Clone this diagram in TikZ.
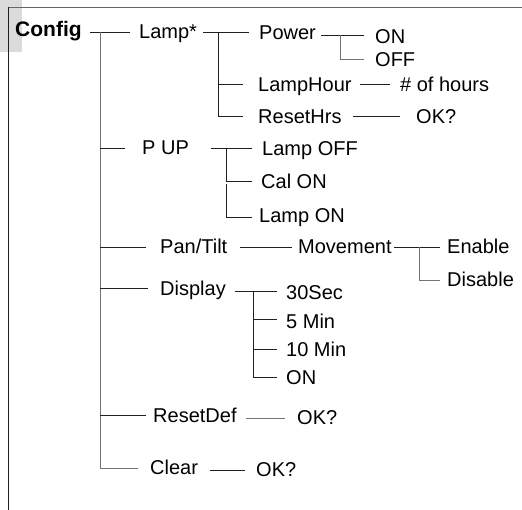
\documentclass[tikz,border=0pt]{standalone}
\usepackage{fontspec}
\setmainfont{Liberation Sans}
\begin{document}
\begin{tikzpicture}[x=1pt,y=-1pt,
  tx/.style={anchor=west,inner sep=0pt,text height=14.3pt,text depth=0pt,font=\fontsize{20}{23}\selectfont},
  bt/.style={anchor=west,inner sep=0pt,text height=15pt,text depth=0pt,font=\fontsize{21}{24}\selectfont\bfseries},
  ln/.style={draw=black!88,line width=0.9pt},
  vl/.style={draw=black!55,line width=0.9pt}]
\useasboundingbox (0,0) rectangle (522,510);
\fill[black!14] (0,0) rectangle (22,52);
\coordinate (F0) at (8,7);
\coordinate (F1) at (522,7);
\coordinate (F2) at (8,510);
\draw[draw=black!60,line width=0.9pt] (F0) -- (F1);
\draw[ln] (F0) -- (F2);

% nodes
\node[bt] (config) at (15,29) {Config};
\node[tx] (lamp) at (139,31) {Lamp*};
\node[tx] (power) at (259,32) {Power};
\node[tx] (on) at (375,36) {ON};
\node[tx] (off) at (375,59) {OFF};
\node[tx] (lamphour) at (258,84) {LampHour};
\node[tx] (hours) at (400,84) {\# of hours};
\node[tx] (resethrs) at (258,116) {ResetHrs};
\node[tx] (ok1) at (416,116) {OK?};
\node[tx] (pup) at (142,147) {P UP};
\node[tx] (lampoff) at (262,148) {Lamp OFF};
\node[tx] (calon) at (261,181) {Cal ON};
\node[tx] (lampon) at (259,215) {Lamp ON};
\node[tx] (pantilt) at (160,246) {Pan/Tilt};
\node[tx] (movement) at (298,246) {Movement};
\node[tx] (enable) at (447,246) {Enable};
\node[tx] (disable) at (447,279) {Disable};
\node[tx] (display) at (160,288) {Display};
\node[tx] (s30) at (286,292) {30Sec};
\node[tx] (m5) at (286,321) {5 Min};
\node[tx] (m10) at (286,349) {10 Min};
\node[tx] (on2) at (286,377) {ON};
\node[tx] (resetdef) at (153,415) {ResetDef};
\node[tx] (ok2) at (297,417) {OK?};
\node[tx] (clear) at (150,467) {Clear};
\node[tx] (ok3) at (256,469) {OK?};

% junctions
\coordinate (T) at (100,32);
\coordinate (L) at (218,32);
\coordinate (P) at (340,35);
\coordinate (U) at (226,148);
\coordinate (M) at (419,247);
\coordinate (D) at (253,291);

% trunk
\draw[ln] ([xshift=8pt]config.east |- T) -- ([xshift=-9pt]lamp.west |- T);
\draw[vl] (T) -- (T |- 0,468) -- ([xshift=-12pt]clear.west |- 0,468);
\draw[ln] (T |- U) -- ([xshift=-17pt]pup.west |- U);
\draw[ln] (T |- M) -- ([xshift=-14pt]pantilt.west |- M);
\draw[ln] (T |- display.west) -- ([xshift=-12pt]display.west);
\draw[ln] (T |- resetdef.west) -- ([xshift=-7pt]resetdef.west);

% Lamp*
\draw[ln] ([xshift=6pt]lamp.east |- L) -- ([xshift=-10pt]power.west |- L);
\draw[ln] (L) |- ([xshift=-15pt]resethrs.west);
\draw[ln] (L |- lamphour.west) -- ([xshift=-15pt]lamphour.west);
% Power
\draw[ln] ([xshift=5pt]power.east |- P) -- ([xshift=-11pt]on.west |- P);
\draw[vl] (P) |- ([xshift=-11pt]off.west);
\draw[ln] ([xshift=8pt]lamphour.east) -- ([xshift=-10pt]hours.west);
\draw[ln] ([xshift=11pt]resethrs.east) -- ([xshift=-16pt]ok1.west);
% P UP
\draw[ln] ([xshift=22pt]pup.east |- U) -- ([xshift=-10pt]lampoff.west |- U);
\draw[ln] (U) |- ([xshift=-9pt]calon.west);
\draw[ln] ([yshift=-3pt]U |- calon.west) |- ([xshift=-7pt]lampon.west |- 0,217);
% Pan/Tilt
\draw[ln] ([xshift=13pt]pantilt.east |- M) -- ([xshift=-6pt]movement.west |- M);
\draw[ln] ([xshift=2pt]movement.east |- M) -- ([xshift=-7pt]enable.west |- M);
\draw[vl] (M) |- ([xshift=-7pt]disable.west |- 0,280);
% Display
\draw[ln] ([xshift=9pt]display.east |- D) -- ([xshift=-9pt]s30.west |- D);
\draw[ln] (D) |- ([xshift=-9pt]on2.west);
\draw[ln] (D |- 0,319) -- ([xshift=-9pt]m5.west |- 0,319);
\draw[ln] (D |- m10.west) -- ([xshift=-9pt]m10.west);
% ResetDef, Clear
\draw[vl] ([xshift=9pt]resetdef.east |- 0,418) -- ([xshift=-12pt]ok2.west |- 0,418);
\draw[ln] ([xshift=12pt]clear.east |- 0,470) -- ([xshift=-11pt]ok3.west |- 0,470);
\end{tikzpicture}
\end{document}
